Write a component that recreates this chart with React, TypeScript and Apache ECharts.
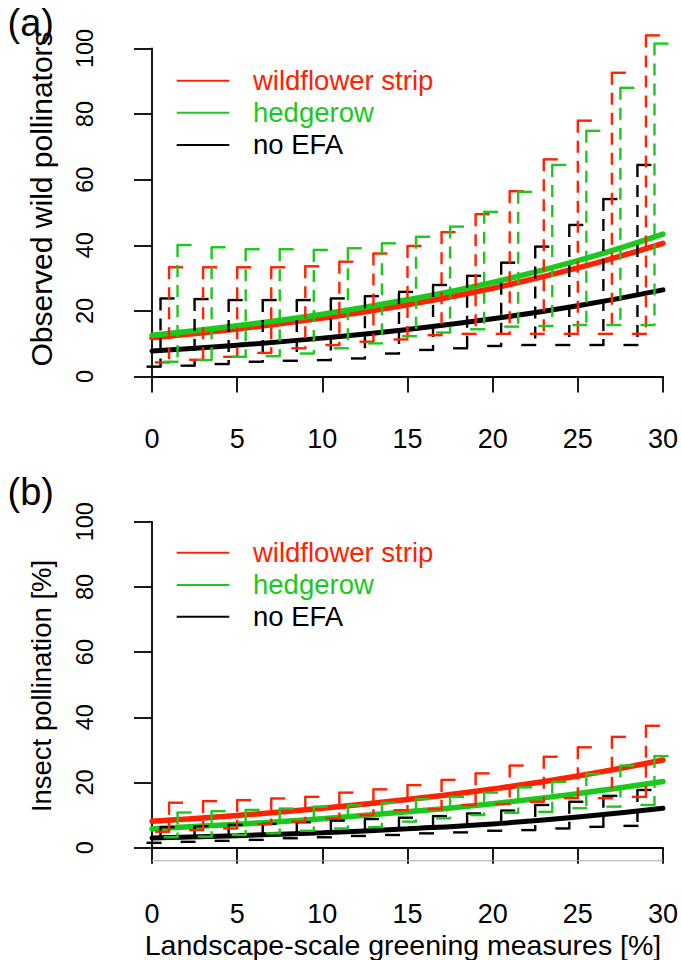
import React, { useEffect, useRef } from "react";
import * as echarts from "echarts";

// ---------- data ----------
const xTicks = [0, 5, 10, 15, 20, 25, 30];
const yTicks = [0, 20, 40, 60, 80, 100];
const legendNames = ["wildflower strip", "hedgerow", "no EFA"];

// fitted curves (x positions and values)
const curveX = [0, 5, 10, 15, 20, 25, 30];
const aWildCurve = [11.8, 14.5, 17.8, 21.9, 26.9, 33.1, 40.6];
const aHedgeCurve = [12.6, 15.5, 19.0, 23.4, 28.7, 35.3, 43.4];
const aNoEfaCurve = [7.8, 9.55, 11.7, 14.35, 17.6, 21.55, 26.4];
const bWildCurve = [8.1, 9.9, 12.1, 14.8, 18.0, 22.0, 26.9];
const bHedgeCurve = [5.8, 7.2, 8.9, 11.0, 13.5, 16.6, 20.3];
const bNoEfaCurve = [3.0, 3.7, 4.6, 5.8, 7.3, 9.4, 12.1];

// confidence bars: x positions
const ciXNoEfa = [0.5, 2.5, 4.5, 6.5, 8.5, 10.5, 12.5, 14.5, 16.5, 18.5, 20.5, 22.5, 24.5, 26.5, 28.5];
const ciXWild = [1, 3, 5, 7, 9, 11, 13, 15, 17, 19, 21, 23, 25, 27, 29];
const ciXHedge = [1.5, 3.5, 5.5, 7.5, 9.5, 11.5, 13.5, 15.5, 17.5, 19.5, 21.5, 23.5, 25.5, 27.5, 29.5];

// panel (a) bars
const aWildLow = [4.3, 5.1, 6.0, 7.2, 8.6, 9.6, 10.6, 11.3, 12.6, 13.0, 13.0, 13.0, 13.0, 13.0, 13.0];
const aWildHigh = [33.3, 33.3, 33.3, 33.3, 33.6, 35.0, 37.5, 39.8, 44.0, 49.5, 56.5, 66.2, 78.0, 92.6, 104.0];
const aHedgeLow = [4.5, 5.0, 6.0, 6.2, 7.0, 8.6, 10.1, 12.3, 13.4, 14.4, 15.2, 15.4, 15.7, 15.7, 15.7];
const aHedgeHigh = [40.1, 39.4, 38.8, 38.8, 38.6, 39.1, 40.6, 42.6, 45.7, 50.2, 56.3, 64.5, 74.9, 88.0, 101.5];
const aNoEfaLow = [3.0, 3.3, 3.8, 4.5, 4.8, 5.0, 5.5, 7.0, 8.1, 8.6, 9.3, 9.6, 9.6, 9.6, 9.6];
const aNoEfaHigh = [23.8, 23.6, 23.3, 23.3, 23.3, 23.8, 24.5, 25.8, 27.9, 30.7, 34.7, 39.6, 46.2, 54.1, 64.5];

// panel (b) bars
const bWildLow = [4.9, 5.4, 5.9, 7.2, 8.0, 9.0, 10.0, 11.5, 11.8, 13.1, 13.4, 14.1, 15.2, 15.2, 15.6];
const bWildHigh = [13.8, 14.3, 14.6, 15.1, 15.6, 16.9, 17.9, 19.2, 20.8, 22.8, 25.2, 27.9, 30.8, 34.0, 37.4];
const bHedgeLow = [3.2, 3.4, 3.9, 4.4, 5.2, 5.9, 6.3, 8.0, 9.0, 10.0, 10.7, 11.0, 12.1, 12.6, 13.1];
const bHedgeHigh = [10.8, 11.2, 11.6, 12.0, 12.6, 13.0, 13.8, 14.9, 15.6, 16.9, 18.5, 20.2, 22.6, 25.2, 28.1];
const bNoEfaLow = [1.5, 1.8, 2.1, 2.4, 2.9, 3.2, 3.6, 3.9, 4.4, 4.7, 5.2, 5.4, 5.9, 6.4, 6.7];
const bNoEfaHigh = [6.3, 6.6, 7.0, 7.3, 7.8, 8.3, 8.8, 9.2, 9.7, 10.5, 11.4, 13.1, 14.1, 15.9, 17.7];

const baselineB = [-4, -4];
const baselineBX = [0, 30];

// ---------- styles ----------
const FONT = "'Liberation Sans', Arial, Helvetica, sans-serif";
const RED = "#ff2200";
const GREEN = "#1cc81c";
const BLACK = "#000000";
const COLORS = [RED, GREEN, BLACK];

function curveSeries(name: string, vals: number[], color: string, idx: number, width: number) {
  return {
    type: "line",
    name,
    xAxisIndex: idx,
    yAxisIndex: idx,
    data: curveX.map((x, i) => [x, vals[i]]),
    smooth: 0.5,
    showSymbol: false,
    symbol: "none",
    clip: false,
    silent: true,
    z: 2,
    lineStyle: { color, width, cap: "round" },
    itemStyle: { color },
  };
}

function ciSeries(name: string, xs: number[], lows: number[], highs: number[], color: string, idx: number) {
  return {
    type: "custom",
    name,
    xAxisIndex: idx,
    yAxisIndex: idx,
    clip: false,
    silent: true,
    z: 4,
    data: xs.map((x, i) => [x, lows[i], highs[i]]),
    encode: { x: 0, y: [1, 2] },
    renderItem: (_params: any, api: any) => {
      const x = api.value(0);
      const lo = api.value(1);
      const hi = api.value(2);
      const t = api.coord([x, hi]);
      const b = api.coord([x, lo]);
      const base = { stroke: color, lineWidth: 2.4, fill: "none" };
      return {
        type: "group",
        children: [
          { type: "line", shape: { x1: t[0], y1: t[1], x2: b[0], y2: b[1] }, style: { ...base, lineDash: [12, 8] } },
          { type: "line", shape: { x1: t[0] - 1, y1: t[1], x2: t[0] + 14, y2: t[1] }, style: base },
          { type: "line", shape: { x1: b[0] - 14, y1: b[1], x2: b[0] + 1, y2: b[1] }, style: base },
        ],
      };
    },
  };
}

function xAxisCfg(idx: number, offset: number, margin: number) {
  return {
    type: "value",
    gridIndex: idx,
    min: xTicks[0],
    max: xTicks[xTicks.length - 1],
    interval: 5,
    offset,
    axisLine: { show: true, lineStyle: { color: BLACK, width: 1.8 } },
    axisTick: { show: true, length: 16, lineStyle: { color: BLACK, width: 1.8 } },
    axisLabel: {
      show: true,
      margin,
      fontSize: 27,
      lineHeight: 27,
      fontFamily: FONT,
      color: BLACK,
      showMinLabel: true,
      showMaxLabel: true,
    },
    splitLine: { show: false },
  };
}

function yAxisCfg(idx: number) {
  return {
    type: "value",
    gridIndex: idx,
    min: yTicks[0],
    max: yTicks[yTicks.length - 1],
    interval: 20,
    offset: 19,
    axisLine: { show: true, lineStyle: { color: BLACK, width: 1.8 } },
    axisTick: { show: true, length: 18, lineStyle: { color: BLACK, width: 1.8 } },
    axisLabel: {
      show: true,
      rotate: 90,
      margin: 36,
      fontSize: 23.5,
      fontFamily: FONT,
      color: BLACK,
      showMinLabel: true,
      showMaxLabel: true,
    },
    splitLine: { show: false },
  };
}

function legendGraphics(lineYs: number[]) {
  const out: any[] = [];
  lineYs.forEach((y, i) => {
    out.push({
      type: "line",
      silent: true,
      shape: { x1: 176.7, y1: y, x2: 229.3, y2: y },
      style: { stroke: COLORS[i], lineWidth: 2 },
    });
    out.push({
      type: "text",
      silent: true,
      x: 253,
      y: y - 0.5,
      style: {
        text: legendNames[i],
        fill: COLORS[i],
        fontSize: 27.5,
        fontFamily: FONT,
        align: "left",
        verticalAlign: "middle",
      },
    });
  });
  return out;
}

function textEl(text: string, x: number, y: number, size: number, rotation = 0, align = "center") {
  return {
    type: "text",
    silent: true,
    x,
    y,
    rotation,
    style: { text, fill: BLACK, fontSize: size, lineHeight: size, fontFamily: FONT, align, verticalAlign: "middle" },
  };
}

export default function App() {
  const ref = useRef<HTMLDivElement>(null);

  useEffect(() => {
    if (!ref.current) return;
    const chart = echarts.init(ref.current, undefined, { renderer: "svg" });
    const option: any = {
      animation: false,
      backgroundColor: "#ffffff",
      grid: [
        { left: 152, top: 48.5, width: 514, height: 328, containLabel: false },
        { left: 152, top: 521.7, width: 514, height: 326, containLabel: false },
      ],
      xAxis: [xAxisCfg(0, 11.8, 37), xAxisCfg(1, 20.8, 32)],
      yAxis: [yAxisCfg(0), yAxisCfg(1)],
      series: [
        {
          type: "line",
          name: "frame",
          xAxisIndex: 1,
          yAxisIndex: 1,
          data: baselineBX.map((x, i) => [x, baselineB[i]]),
          symbol: "none",
          showSymbol: false,
          clip: false,
          silent: true,
          z: 1,
          lineStyle: { color: "#a8a8a8", width: 1 },
        },
        curveSeries(legendNames[0], aWildCurve, RED, 0, 5.5),
        curveSeries(legendNames[1], aHedgeCurve, GREEN, 0, 5.5),
        curveSeries(legendNames[2], aNoEfaCurve, BLACK, 0, 5),
        ciSeries("a-noefa-ci", ciXNoEfa, aNoEfaLow, aNoEfaHigh, BLACK, 0),
        ciSeries("a-wild-ci", ciXWild, aWildLow, aWildHigh, RED, 0),
        ciSeries("a-hedge-ci", ciXHedge, aHedgeLow, aHedgeHigh, GREEN, 0),
        curveSeries(legendNames[0], bWildCurve, RED, 1, 5.5),
        curveSeries(legendNames[1], bHedgeCurve, GREEN, 1, 5.5),
        curveSeries(legendNames[2], bNoEfaCurve, BLACK, 1, 5),
        ciSeries("b-noefa-ci", ciXNoEfa, bNoEfaLow, bNoEfaHigh, BLACK, 1),
        ciSeries("b-wild-ci", ciXWild, bWildLow, bWildHigh, RED, 1),
        ciSeries("b-hedge-ci", ciXHedge, bHedgeLow, bHedgeHigh, GREEN, 1),
      ],
      graphic: [
        textEl("(a)", 7.5, 23, 38, 0, "left"),
        textEl("(b)", 7.5, 492, 38, 0, "left"),
        textEl("Observed wild pollinators", 41, 199, 30, Math.PI / 2),
        textEl("Insect pollination [%]", 41, 686, 27.5, Math.PI / 2),
        textEl("Landscape-scale greening measures [%]", 403, 944.5, 28.5),
        ...legendGraphics([80.7, 112.7, 145]),
        ...legendGraphics([552.7, 585, 616.7]),
      ],
    };
    chart.setOption(option);
    return () => {
      chart.dispose();
    };
  }, []);

  return (
    <div
      ref={ref}
      style={{ position: "absolute", left: 0, top: 0, width: 681, height: 960, background: "#fff" }}
    />
  );
}
